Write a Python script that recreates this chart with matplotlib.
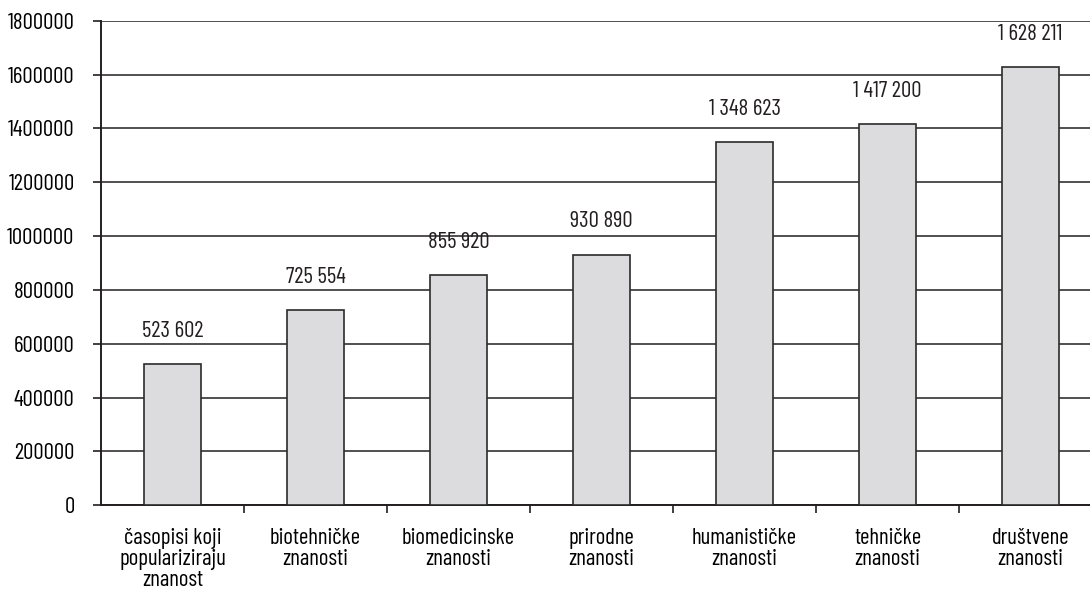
import matplotlib
matplotlib.use("Agg")
import matplotlib.pyplot as plt
import numpy as np

categories = [
    "časopisi koji\npopulariziraju\nznanost",
    "biotehničke\nznanosti",
    "biomedicinske\nznanosti",
    "prirodne\nznanosti",
    "humanističke\nznanosti",
    "tehničke\nznanosti",
    "društvene\nznanosti",
]
values = [523602, 725554, 855920, 930890, 1348623, 1417200, 1628211]
value_labels = ["523 602", "725 554", "855 920", "930 890", "1 348 623", "1 417 200", "1 628 211"]
yticks = np.arange(0, 1800001, 200000)

plt.rcParams["font.family"] = ["Barlow Condensed", "Roboto Condensed", "DejaVu Sans"]
plt.rcParams["text.color"] = "#231f20"
FS = 16.5

fig = plt.figure(figsize=(10.9, 5.95), dpi=100)
# axes run slightly past the right edge of the figure, as in the reference
ax = fig.add_axes([101 / 1090, 89.7 / 595, 1001 / 1090, 484.6 / 595])

x = np.arange(len(values))
ax.bar(x, values, width=0.4, color="#dcdcde", edgecolor="#2b2b2b", linewidth=1.2, zorder=3)

for xi, v, lab in zip(x, values, value_labels):
    ax.annotate(lab, (xi, v), xytext=(0, 16), textcoords="offset points",
                ha="center", va="bottom", fontsize=FS)

ax.set_xlim(-0.5, len(values) - 0.5)
ax.set_ylim(0, 1800000)
ax.set_yticks(yticks)
ax.set_yticklabels([str(t) for t in yticks], fontsize=FS)
ax.yaxis.grid(True, color="#231f20", linewidth=1.1, zorder=0)
ax.set_axisbelow(True)

ax.set_xticks(np.arange(0.5, len(values) - 0.5), minor=False)
ax.set_xticklabels([])
ax.set_xticks(x, minor=True)
ax.set_xticklabels(categories, minor=True, fontsize=FS, linespacing=1.0)
ax.tick_params(axis="x", which="minor", length=0, pad=16)
ax.tick_params(axis="x", which="major", length=6, width=1.2, color="#231f20")
ax.tick_params(axis="y", length=6, width=1.2, color="#231f20", pad=13)

for s in ["top", "right"]:
    ax.spines[s].set_visible(False)
for s in ["left", "bottom"]:
    ax.spines[s].set_color("#231f20")
    ax.spines[s].set_linewidth(1.4)

fig.savefig("out.png", dpi=100)
